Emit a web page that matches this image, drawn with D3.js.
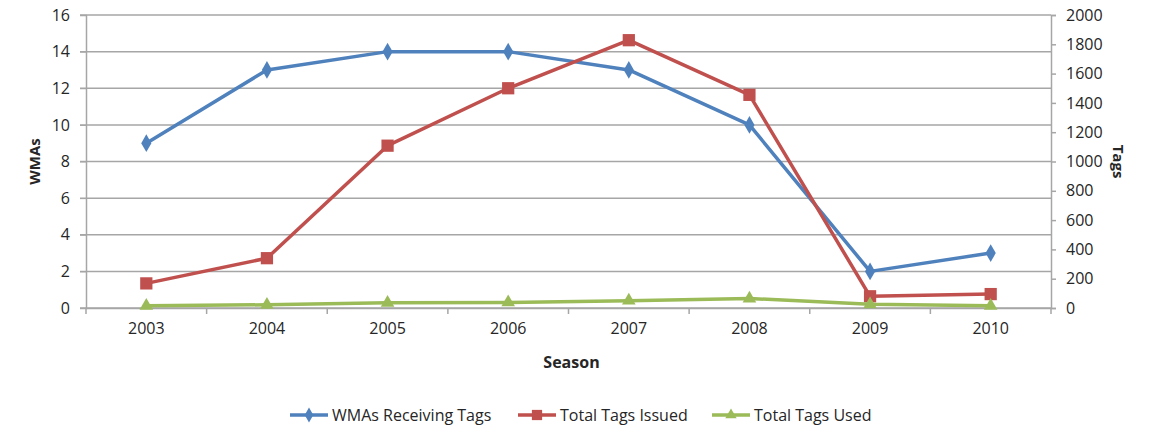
<!DOCTYPE html>
<html><head><meta charset="utf-8">
<script src="https://cdn.jsdelivr.net/npm/d3@7"></script>
<style>
body{margin:0;background:#fff;}
text{font-family:"Open Sans",Lato,sans-serif;fill:#262626;}
</style></head>
<body><svg id="c" width="1150" height="430"></svg>
<script>
const seasons = ["2003","2004","2005","2006","2007","2008","2009","2010"];
const wmasReceiving = [9,13,14,14,13,10,2,3];
const tagsIssued = [168,340,1108,1500,1828,1455,80,95];
const tagsUsed = [15,22,35,38,50,65,25,15];
const leftTicks = [0,2,4,6,8,10,12,14,16];
const rightTicks = [0,200,400,600,800,1000,1200,1400,1600,1800,2000];
const seriesNames = ["WMAs Receiving Tags","Total Tags Issued","Total Tags Used"];
const colors = ["#4F81BD","#C0504D","#9BBB59"];

const svg = d3.select("#c");
const L=86, R=1051, T=15, B=308;
const x = d3.scaleBand().domain(seasons).range([L,R]);
const yL = d3.scaleLinear().domain([0,16]).range([B,T]);
const yR = d3.scaleLinear().domain([0,2000]).range([B,T]);
const grid="#a6a6a6";

// gridlines
svg.append("g").selectAll("line").data(leftTicks).join("line")
  .attr("x1",L-6).attr("x2",R).attr("y1",d=>yL(d)).attr("y2",d=>yL(d))
  .attr("stroke",grid).attr("stroke-width",1.5);

// left axis
const gl = svg.append("g").attr("transform",`translate(${L},0)`)
  .call(d3.axisLeft(yL).tickValues(leftTicks).tickSize(6).tickPadding(10));
gl.select(".domain").attr("stroke",grid).attr("stroke-width",1.5);
gl.selectAll(".tick line").attr("stroke",grid);
gl.selectAll("text").style("font-size","16px").attr("fill","#262626");

// right axis
const gr = svg.append("g").attr("transform",`translate(${R},0)`)
  .call(d3.axisRight(yR).tickValues(rightTicks).tickFormat(d3.format("d")).tickSize(5).tickPadding(10));
gr.select(".domain").attr("stroke",grid).attr("stroke-width",1.5);
gr.selectAll(".tick line").attr("stroke",grid).attr("stroke-width",1.5);
gr.selectAll("text").style("font-size","16px").attr("fill","#262626");

// bottom axis
const gb = svg.append("g").attr("transform",`translate(0,${B})`)
  .call(d3.axisBottom(x).tickSize(0).tickPadding(15));
gb.select(".domain").attr("stroke",grid).attr("stroke-width",1.5);
gb.selectAll("text").style("font-size","16px").attr("fill","#262626");
const bounds = seasons.map(s=>x(s)).concat([R]);
svg.append("g").selectAll("line").data(bounds).join("line")
  .attr("x1",d=>d).attr("x2",d=>d).attr("y1",B).attr("y2",B+6)
  .attr("stroke",grid).attr("stroke-width",1.5);

// axis titles
svg.append("text").attr("transform",`translate(40,${(T+B)/2}) rotate(-90)`)
  .attr("text-anchor","middle").style("font-size","15px").style("font-weight","bold").text("WMAs");
svg.append("text").attr("transform",`translate(1113,${(T+B)/2}) rotate(90)`)
  .attr("text-anchor","middle").style("font-size","15px").style("font-weight","bold").text("Tags");
svg.append("text").attr("x",(L+R)/2+3).attr("y",368)
  .attr("text-anchor","middle").style("font-size","16px").style("font-weight","bold").text("Season");

const cx = d=>x(d)+x.bandwidth()/2;
const series = [
  {vals:wmasReceiving, y:yL, sym:d3.symbolDiamond, size:90},
  {vals:tagsIssued, y:yR, sym:d3.symbolSquare, size:150},
  {vals:tagsUsed, y:yR, sym:d3.symbolTriangle, size:80}
];
series.forEach((s,i)=>{
  const pts = seasons.map((d,j)=>[cx(d), s.y(s.vals[j])]);
  svg.append("path").attr("d",d3.line()(pts)).attr("fill","none")
    .attr("stroke",colors[i]).attr("stroke-width",3.5).attr("stroke-linejoin","round");
  svg.append("g").selectAll("path").data(pts).join("path")
    .attr("transform",p=>`translate(${p[0]},${p[1]})`)
    .attr("d",d3.symbol().type(s.sym).size(s.size)).attr("fill",colors[i]);
});

// legend
const legX = [290,518,712];
seriesNames.forEach((n,i)=>{
  const g = svg.append("g").attr("transform",`translate(${legX[i]},415)`);
  g.append("line").attr("x1",0).attr("x2",38).attr("stroke",colors[i]).attr("stroke-width",3.5);
  g.append("path").attr("transform","translate(19,0)")
    .attr("d",d3.symbol().type(series[i].sym).size(series[i].size*0.7)).attr("fill",colors[i]);
  g.append("text").attr("x",42).attr("y",5.5).style("font-size","16px").text(n);
});
</script></body></html>
